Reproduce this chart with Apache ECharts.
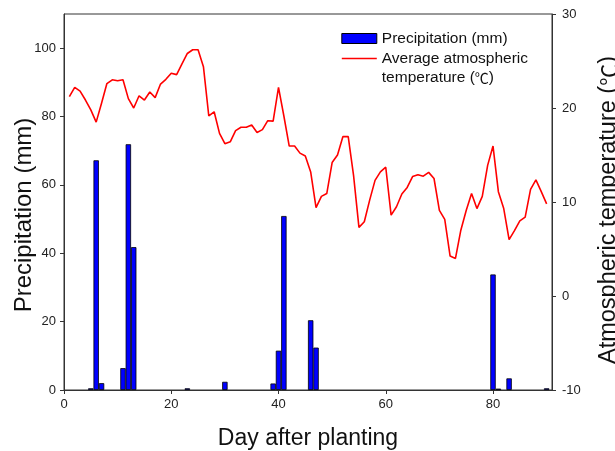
<!DOCTYPE html>
<html lang="en">
<head>
    <meta charset="utf-8">
    <title>Precipitation and temperature</title>
    <script src="https://cdn.jsdelivr.net/npm/echarts@6/dist/echarts.min.js"></script>
    <style>
        html, body { margin: 0; padding: 0; background: #fff; }
    </style>
</head>
<body>
<div id="main" style="width: 615px;height:451px;"></div>
<script>
    // 降水日 (day after planting) 及降水量 (mm)
    var rainDays = [5, 6, 7, 11, 12, 13, 23, 30, 39, 40, 41, 46, 47, 80, 81, 83, 90];
    var rainValues = [0.5, 67.2, 2, 6.4, 71.9, 41.8, 0.5, 2.4, 1.9, 11.5, 50.9, 20.4, 12.4, 33.8, 0.4, 3.4, 0.5];

    // 日平均气温, day 1 .. 90
    var tempValues = [
        21.2, 22.2, 21.8, 20.85, 19.8, 18.5, 20.5, 22.6, 23.0, 22.9,
        23.0, 21.0, 20.0, 21.3, 20.85, 21.7, 21.1, 22.55, 23.05, 23.7,
        23.55, 24.7, 25.8, 26.2, 26.2, 24.4, 19.15, 19.6, 17.3, 16.2,
        16.4, 17.6, 17.95, 17.95, 18.2, 17.4, 17.7, 18.65, 18.6, 22.2,
        19.15, 15.95, 15.95, 15.2, 14.9, 13.2, 9.4, 10.6, 10.9, 14.2,
        15.0, 16.95, 16.95, 12.8, 7.3, 7.9, 10.2, 12.3, 13.2, 13.7,
        8.6, 9.5, 10.85, 11.55, 12.7, 12.9, 12.75, 13.15, 12.5, 9.1,
        8.15, 4.25, 4.0, 7.0, 9.1, 10.9, 9.3, 10.6, 13.9, 15.95,
        11.1, 9.3, 6.0, 6.95, 8.0, 8.4, 11.35, 12.35, 11.1, 9.8
    ];

    var rainName = 'Precipitation (mm)';
    var tempName = 'Average atmospheric temperature (\u2103)';

    var rainData = [];
    for (var i = 0; i < rainDays.length; i++) {
        rainData.push([rainDays[i], rainValues[i]]);
    }
    var tempData = [];
    for (var j = 0; j < tempValues.length; j++) {
        tempData.push([j + 1, tempValues[j]]);
    }

    var font = 'Liberation Sans, Arial, sans-serif';
    var cjk = 'Noto Sans CJK SC';
    var axisCol = '#333';

    var myChart = echarts.init(document.getElementById('main'));

    var option = {
        animation: false,
        textStyle: {fontFamily: font},
        grid: {
            left: 64, right: 63, top: 14, bottom: 61,
            containLabel: false, outerBoundsMode: 'none',
            show: true, borderColor: axisCol, borderWidth: 1
        },
        legend: {
            orient: 'vertical',
            left: 336, top: 24,
            itemWidth: 35, itemHeight: 10, itemGap: 1,
            textStyle: {
                fontSize: 15.5, color: '#111', fontFamily: font, lineHeight: 19,
                rich: {c: {fontFamily: cjk, fontSize: 14, color: '#111'}}
            },
            formatter: function (name) {
                return name === tempName ? 'Average atmospheric\ntemperature ({c|\u2103})' : name;
            },
            data: [
                {name: rainName, icon: 'rect', itemStyle: {borderColor: '#000', borderWidth: 1}},
                {
                    name: tempName,
                    itemStyle: {opacity: 0},
                    lineStyle: {color: '#ff0000', width: 1.6},
                    // 图标与第一行文字对齐
                    textStyle: {padding: [0, 0, -19, 0]}
                }
            ]
        },
        xAxis: {
            type: 'value',
            min: 0, max: 91, interval: 20,
            name: 'Day after planting',
            nameLocation: 'middle', nameGap: 37, nameMoveOverlap: false,
            nameTextStyle: {fontSize: 23, color: '#111', fontFamily: font},
            splitLine: {show: false},
            axisLine: {lineStyle: {color: axisCol}},
            axisTick: {inside: false, length: 4, lineStyle: {color: axisCol}},
            axisLabel: {
                showMaxLabel: false, fontSize: 13, color: '#222', margin: 8,
                formatter: function (v) { return v % 20 === 0 ? v : ''; }
            }
        },
        yAxis: [
            {
                type: 'value',
                min: 0, max: 110, interval: 20,
                name: 'Precipitation (mm)',
                nameLocation: 'middle', nameGap: 28, nameRotate: 90, nameMoveOverlap: false,
                nameTextStyle: {fontSize: 24, color: '#111', fontFamily: font, padding: [0, 26, 0, 0]},
                splitLine: {show: false},
                axisLine: {show: true, lineStyle: {color: axisCol}},
                axisTick: {show: true, length: 4, lineStyle: {color: axisCol}},
                axisLabel: {
                    showMaxLabel: false, fontSize: 13, color: '#222', margin: 8,
                    formatter: function (v) { return v % 20 === 0 ? v : ''; }
                }
            },
            {
                type: 'value',
                min: -10, max: 30, interval: 10,
                position: 'right',
                name: 'Atmospheric temperature ({c|\u2103})',
                nameLocation: 'middle', nameGap: 45, nameRotate: 90, nameMoveOverlap: false,
                nameTextStyle: {
                    fontSize: 23.5, color: '#111', fontFamily: font, padding: [0, 16, 0, 0],
                    rich: {c: {fontFamily: cjk, fontSize: 22, color: '#111'}}
                },
                splitLine: {show: false},
                axisLine: {show: true, lineStyle: {color: axisCol}},
                axisTick: {show: true, length: 4, lineStyle: {color: axisCol}},
                axisLabel: {fontSize: 13, color: '#222', margin: 10}
            }
        ],
        series: [
            {
                name: rainName,
                type: 'bar',
                yAxisIndex: 0,
                barWidth: 5.4,
                itemStyle: {color: '#0000ff', borderColor: '#000', borderWidth: 0.8},
                data: rainData
            },
            {
                name: tempName,
                type: 'line',
                yAxisIndex: 1,
                symbol: 'none',
                lineStyle: {color: '#ff0000', width: 1.6},
                itemStyle: {color: '#ff0000'},
                data: tempData
            }
        ]
    };

    myChart.setOption(option);
</script>
</body>
</html>
